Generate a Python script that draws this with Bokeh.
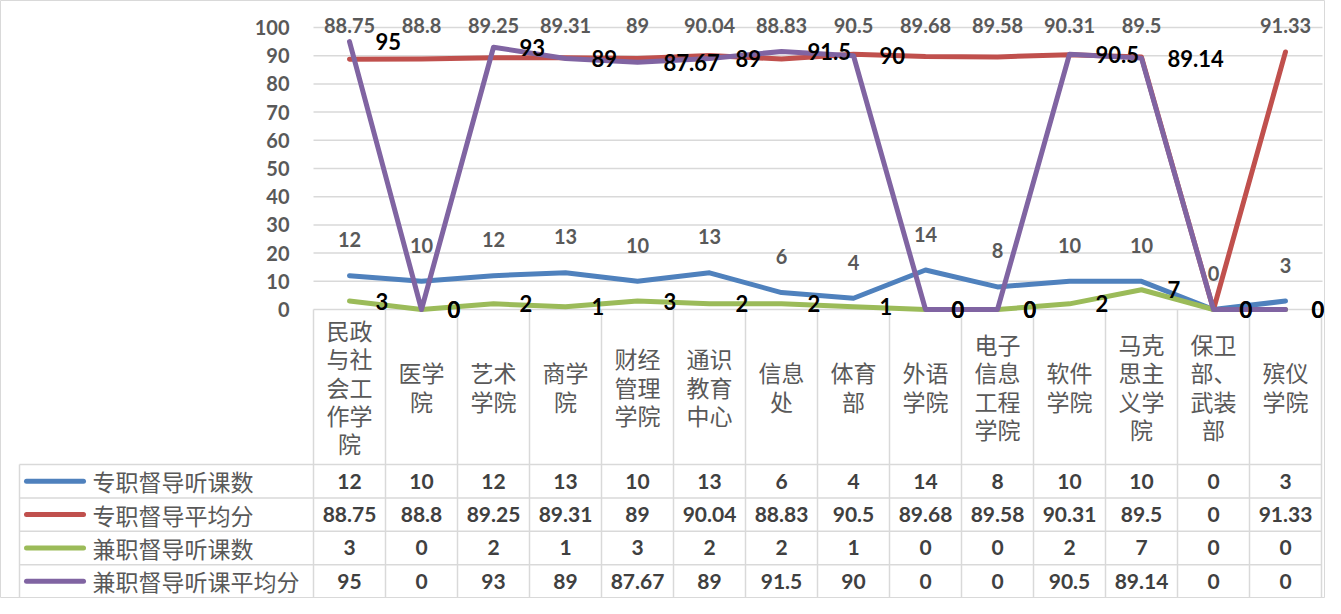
from bokeh.plotting import figure
from bokeh.models import Range1d, LinearAxis, FixedTicker, ColumnDataSource
from bokeh.core.properties import value
from bokeh.embed import file_html
from bokeh.resources import INLINE

# ---------------- data ----------------
categories = ["民政与社会工作学院", "医学院", "艺术学院", "商学院", "财经管理学院",
              "通识教育中心", "信息处", "体育部", "外语学院", "电子信息工程学院",
              "软件学院", "马克思主义学院", "保卫部、武装部", "殡仪学院"]
series_names = ["专职督导听课数", "专职督导平均分", "兼职督导听课数", "兼职督导听课平均分"]
full_count = [12, 10, 12, 13, 10, 13, 6, 4, 14, 8, 10, 10, 0, 3]
full_avg = [88.75, 88.8, 89.25, 89.31, 89, 90.04, 88.83, 90.5, 89.68, 89.58, 90.31, 89.5, 0, 91.33]
part_count = [3, 0, 2, 1, 3, 2, 2, 1, 0, 0, 2, 7, 0, 0]
part_avg = [95, 0, 93, 89, 87.67, 89, 91.5, 90, 0, 0, 90.5, 89.14, 0, 0]
y_ticks = [0, 10, 20, 30, 40, 50, 60, 70, 80, 90, 100]

colors = ["#4F81BD", "#C0504D", "#9BBB59", "#8064A2"]
series = [full_count, full_avg, part_count, part_avg]

# ---------------- layout helpers (page pixel -> data) ----------------
COL_W = 72.0
X0_PX = 321.0
Y0_PX = 317.0
PX_PER_UNIT = 2.82


def px2x(px):
    return (px - X0_PX) / COL_W


def py2y(py):
    return (Y0_PX - py) / PX_PER_UNIT


def fmt(v):
    return f"{v:g}"


W, H = 1325, 598
p = figure(width=W, height=H,
           x_range=Range1d(px2x(8), px2x(8 + W)),
           y_range=Range1d(py2y(8 + H), py2y(8)),
           x_axis_type=None, y_axis_type=None,
           output_backend="svg", toolbar_location=None, min_border=0)
p.grid.visible = False
p.outline_line_color = "#D9D9D9"
p.outline_line_width = 1
p.background_fill_color = "white"
p.border_fill_color = "white"

yaxis = LinearAxis(fixed_location=0, ticker=FixedTicker(ticks=y_ticks),
                   axis_line_color=None, major_tick_line_color=None,
                   minor_tick_line_color=None, major_label_standoff=18,
                   major_label_text_font="Lato", major_label_text_font_size="20px",
                   major_label_text_font_style="bold", major_label_text_color="#595959")
p.add_layout(yaxis, "left")

GRID_COL = "#D9D9D9"
n = len(categories)
xs = [i + 0.5 for i in range(n)]

# horizontal gridlines
p.segment(x0=[0] * len(y_ticks), x1=[px2x(1330)] * len(y_ticks), y0=y_ticks, y1=y_ticks,
          line_color=GRID_COL, line_width=1.5)

# ---------------- data table grid ----------------
header_bottom = 472.0
table_bottom = 8 + H - 0.5
row_h = (table_bottom - header_bottom) / 4
row_lines = [header_bottom + k * row_h for k in range(5)]
p.segment(x0=[px2x(27)] * 5, x1=[n] * 5,
          y0=[py2y(r) for r in row_lines], y1=[py2y(r) for r in row_lines],
          line_color=GRID_COL, line_width=1.5)
p.segment(x0=list(range(n + 1)), x1=list(range(n + 1)),
          y0=[0] * (n + 1), y1=[py2y(table_bottom)] * (n + 1),
          line_color=GRID_COL, line_width=1.5)
p.segment(x0=[px2x(27)], x1=[px2x(27)], y0=[py2y(header_bottom)], y1=[py2y(table_bottom)],
          line_color=GRID_COL, line_width=1.5)

# category header text (2 chars per line)
cx, cy, ct = [], [], []
LINE_H = 28.3
HEADER_MID = 394.0
for i, c in enumerate(categories):
    lines = [c[k:k + 2] for k in range(0, len(c), 2)]
    m = len(lines)
    for j, ln in enumerate(lines):
        cx.append(i + 0.5)
        cy.append(py2y(HEADER_MID + (j - (m - 1) / 2) * LINE_H))
        ct.append(ln)
p.text(x=cx, y=cy, text=ct, text_align="center", text_baseline="middle",
       text_font=value("Noto Sans CJK SC"), text_font_size="23px", text_color="#595959")

# legend column + values
row_centers = [header_bottom + (k + 0.5) * row_h for k in range(4)]
for k, name in enumerate(series_names):
    yc = py2y(row_centers[k])
    p.line(x=[px2x(34), px2x(91)], y=[yc, yc], line_color=colors[k], line_width=5,
           line_cap="round")
    p.text(x=[px2x(100)], y=[yc], text=[name], text_align="left", text_baseline="middle",
           text_font=value("Noto Sans CJK SC"), text_font_size="23px", text_color="#595959")
    p.text(x=xs, y=[yc] * n, text=[fmt(v) for v in series[k]], text_align="center",
           text_baseline="middle", text_font=value("Lato"), text_font_size="21px",
           text_font_style="bold", text_color="#404040")

# ---------------- series lines ----------------
for k in range(4):
    p.line(x=xs, y=series[k], line_color=colors[k], line_width=5,
           line_cap="round", line_join="round")

# ---------------- data labels ----------------
# 专职督导听课数: above points
p.text(x=xs, y=full_count, text=[fmt(v) for v in full_count], text_align="center",
       text_baseline="middle", y_offset=-36, text_font=value("Lato"),
       text_font_size="20px", text_font_style="bold", text_color="#595959")
# 专职督导平均分: row along the top
RED_LABEL_LEVEL = 100.6
rx = [xs[i] for i, v in enumerate(full_avg) if v > 0]
rt = [fmt(v) for v in full_avg if v > 0]
p.text(x=rx, y=[RED_LABEL_LEVEL] * len(rx), text=rt, text_align="center",
       text_baseline="middle", text_font=value("Lato"), text_font_size="20px",
       text_font_style="bold", text_color="#595959")
# 兼职 series: right of points
for vals in (part_count, part_avg):
    p.text(x=xs, y=vals, text=[fmt(v) for v in vals], text_align="left",
           text_baseline="middle", x_offset=26, text_font=value("Lato"),
           text_font_size="22px", text_font_style="bold", text_color="#000000")

open("out.html", "w").write(file_html(p, INLINE))
